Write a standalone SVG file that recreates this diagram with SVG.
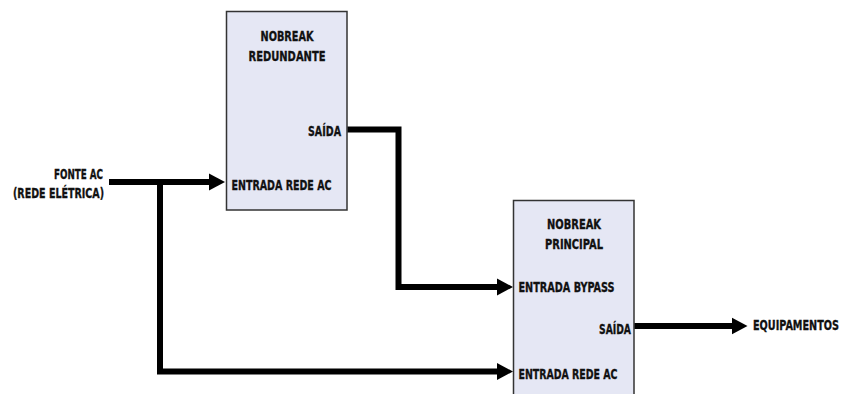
<svg xmlns="http://www.w3.org/2000/svg" width="844" height="394" viewBox="0 0 844 394">
<style>
.box{fill:#e5e7f4;stroke:#333;stroke-width:1.5}
.t{font-family:"DejaVu Sans Condensed","DejaVu Sans","Liberation Sans",sans-serif;font-stretch:condensed;font-weight:bold;font-size:14.5px;fill:#111;stroke:#111;stroke-width:0.35}
.w{fill:none;stroke:#000;stroke-width:6;stroke-linejoin:miter}
</style>
<defs>
<marker id="ah" markerUnits="userSpaceOnUse" markerWidth="17" markerHeight="18" refX="0.5" refY="9" orient="auto">
<path d="M0,0.5 L16,9 L0,17.5 z" fill="#000"/>
</marker>
</defs>
<rect width="844" height="394" fill="#fff"/>
<g id="fonte">
<text class="t" x="103" y="178.5" text-anchor="end" textLength="49" lengthAdjust="spacingAndGlyphs">FONTE AC</text>
<text class="t" x="104" y="198" text-anchor="end" textLength="91" lengthAdjust="spacingAndGlyphs">(REDE ELÉTRICA)</text>
</g>
<g id="redundante">
<rect class="box" x="226.5" y="11.5" width="120.5" height="198.5"/>
<text class="t" x="287" y="40.5" text-anchor="middle" textLength="53" lengthAdjust="spacingAndGlyphs">NOBREAK</text>
<text class="t" x="287" y="60.5" text-anchor="middle" textLength="77" lengthAdjust="spacingAndGlyphs">REDUNDANTE</text>
<text class="t" x="341" y="136" text-anchor="end" textLength="33" lengthAdjust="spacingAndGlyphs">SAÍDA</text>
<text class="t" x="231.5" y="189.5" textLength="100" lengthAdjust="spacingAndGlyphs">ENTRADA REDE AC</text>
</g>
<g id="principal">
<rect class="box" x="513.5" y="200.5" width="120.5" height="200"/>
<text class="t" x="574" y="228.5" text-anchor="middle" textLength="54" lengthAdjust="spacingAndGlyphs">NOBREAK</text>
<text class="t" x="574" y="248.5" text-anchor="middle" textLength="58" lengthAdjust="spacingAndGlyphs">PRINCIPAL</text>
<text class="t" x="518.5" y="292" textLength="96" lengthAdjust="spacingAndGlyphs">ENTRADA BYPASS</text>
<text class="t" x="631" y="333.5" text-anchor="end" textLength="32" lengthAdjust="spacingAndGlyphs">SAÍDA</text>
<text class="t" x="518.5" y="378.5" textLength="99" lengthAdjust="spacingAndGlyphs">ENTRADA REDE AC</text>
</g>
<g id="equipamentos">
<text class="t" x="753" y="329.5" textLength="86" lengthAdjust="spacingAndGlyphs">EQUIPAMENTOS</text>
</g>
<g id="connectors">
<path class="w" d="M109,182 H209.5" marker-end="url(#ah)"/>
<path class="w" d="M160,182 V371.5 H497.5" marker-end="url(#ah)"/>
<path class="w" d="M347.5,129.5 H398.5 V287 H497.5" marker-end="url(#ah)"/>
<path class="w" d="M634.5,326 H732" marker-end="url(#ah)"/>
</g>
</svg>
